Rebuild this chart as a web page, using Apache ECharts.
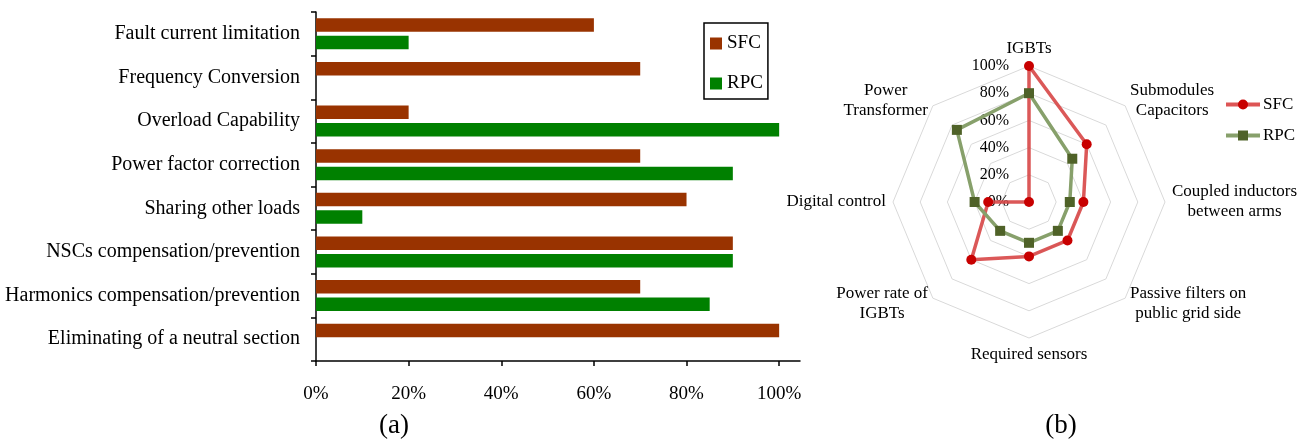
<!DOCTYPE html>
<html><head><meta charset="utf-8">
<script src="https://cdn.jsdelivr.net/npm/echarts@6/dist/echarts.min.js"></script>
<style>html,body{margin:0;padding:0;background:#fff}#c{width:1306px;height:439px}</style>
</head><body><div id="c"></div>
<script>
// ---- data ----
const barCategories = ['Fault current limitation','Frequency Conversion','Overload Capability','Power factor correction','Sharing other loads','NSCs compensation/prevention','Harmonics compensation/prevention','Eliminating of a neutral section'];
const barSFC = [60, 70, 20, 70, 80, 90, 70, 100];
const barRPC = [20, 0, 100, 90, 10, 90, 85, 0];
const barTicks = [0, 20, 40, 60, 80, 100];
// radar indicators listed clockwise starting at top
const radarIndicators = ['IGBTs','Submodules\nCapacitors','Coupled inductors\nbetween arms','Passive filters on\npublic grid side','Required sensors','Power rate of\nIGBTs','Digital control','Power\nTransformer'];
const radarSFC = [100, 60, 40, 40, 40, 60, 30, 0];
const radarRPC = [80, 45, 30, 30, 30, 30, 40, 75];
const seriesNames = ['SFC', 'RPC'];

// ---- chart ----
const serif = 'Liberation Serif';
// ECharts radar runs counter-clockwise; reorder to get clockwise layout
const order = radarIndicators.map((_, i) => (radarIndicators.length - i) % radarIndicators.length);
const chart = echarts.init(document.getElementById('c'));
const option = {
  animation: false,
  textStyle: { fontFamily: serif, color: '#000' },
  grid: { left: 316, top: 12, width: 484, height: 349, containLabel: false },
  xAxis: {
    type: 'value', min: 0, max: 104.5,
    axisLine: { show: true, lineStyle: { color: '#000', width: 1.5 } },
    axisTick: { show: true, length: 5, customValues: barTicks, lineStyle: { color: '#000', width: 1.5 } },
    axisLabel: { customValues: barTicks, formatter: '{value}%', fontSize: 19, color: '#000', fontFamily: serif, margin: 24 },
    splitLine: { show: false }
  },
  yAxis: {
    type: 'category', data: barCategories, inverse: true,
    axisLine: { show: true, lineStyle: { color: '#000', width: 1.5 } },
    axisTick: { show: true, length: 5, lineStyle: { color: '#000', width: 1.5 } },
    axisLabel: { fontSize: 20, color: '#000', fontFamily: serif, margin: 16 }
  },
  legend: [
    {
      orient: 'vertical', left: 704, top: 23, padding: [11, 5, 6, 6],
      borderColor: '#000', borderWidth: 1.5, itemWidth: 12, itemHeight: 12, itemGap: 21,
      textStyle: { fontSize: 19, color: '#000', fontFamily: serif },
      data: [
        { name: seriesNames[0], icon: 'rect', itemStyle: { color: '#993300' } },
        { name: seriesNames[1], icon: 'rect', itemStyle: { color: '#008000' } }
      ]
    },
    {
      orient: 'vertical', left: 1226, top: 96, padding: 0,
      itemWidth: 34, itemHeight: 4, itemGap: 14, selectedMode: false,
      textStyle: { fontSize: 17, color: '#000', fontFamily: serif, padding: [0, 0, 0, -2] },
      data: [
        { name: seriesNames[0], icon: 'path://M0,0H34V4H0Z', itemStyle: { color: '#dd5555' } },
        { name: seriesNames[1], icon: 'path://M0,0H34V4H0Z', itemStyle: { color: '#87a06b' } }
      ]
    },
    {
      orient: 'vertical', left: 1238, top: 96, padding: 0,
      itemWidth: 10, itemHeight: 10, itemGap: 14, selectedMode: false,
      textStyle: { fontSize: 17, color: 'rgba(0,0,0,0)', fontFamily: serif },
      data: [
        { name: seriesNames[0], icon: 'circle', itemStyle: { color: '#c80000' } },
        { name: seriesNames[1], icon: 'rect', itemStyle: { color: '#4f6228' } }
      ]
    }
  ],
  radar: {
    center: [1029, 202], radius: 136, startAngle: 90, splitNumber: 5, shape: 'polygon',
    nameGap: 7,
    axisName: {
      color: '#000', fontSize: 17, fontFamily: serif, lineHeight: 20,
      formatter: (name) => name.split('\n').map(l => '{c|' + l + '}').join('\n'),
      rich: { c: { align: 'center', fontSize: 17, fontFamily: serif, color: '#000', lineHeight: 20 } }
    },
    indicator: order.map((k, i) => {
      const o = { name: radarIndicators[k], min: 0, max: 100 };
      if (i === 0) o.axisLabel = { show: true, formatter: '{value}%', fontSize: 16, color: '#000', fontFamily: serif, margin: 20 };
      return o;
    }),
    splitLine: { lineStyle: { color: '#d9d9d9', width: 1 } },
    splitArea: { show: false },
    axisLine: { show: false },
    axisTick: { show: false },
    axisLabel: { show: false }
  },
  series: [
    {
      name: seriesNames[0], type: 'bar', data: barSFC, barWidth: 13.5, barGap: '30%',
      itemStyle: { color: '#993300' }
    },
    {
      name: seriesNames[1], type: 'bar', data: barRPC, barWidth: 13.5, barGap: '30%',
      itemStyle: { color: '#008000' }
    },
    {
      type: 'radar', symbolSize: 10,
      data: [
        { name: seriesNames[0], value: order.map(k => radarSFC[k]), symbol: 'circle',
          itemStyle: { color: '#c80000' }, lineStyle: { color: 'rgba(215,70,70,0.9)', width: 3.5 } },
        { name: seriesNames[1], value: order.map(k => radarRPC[k]), symbol: 'rect',
          itemStyle: { color: '#4f6228' }, lineStyle: { color: '#87a06b', width: 3.5 } }
      ]
    }
  ],
  graphic: [
    { type: 'text', x: 394, y: 426, style: { text: '(a)', align: 'center', verticalAlign: 'middle', font: '27px "Liberation Serif"', fill: '#000' } },
    { type: 'text', x: 1061, y: 426, style: { text: '(b)', align: 'center', verticalAlign: 'middle', font: '27px "Liberation Serif"', fill: '#000' } }
  ]
};
chart.setOption(option);
</script>
</body></html>
